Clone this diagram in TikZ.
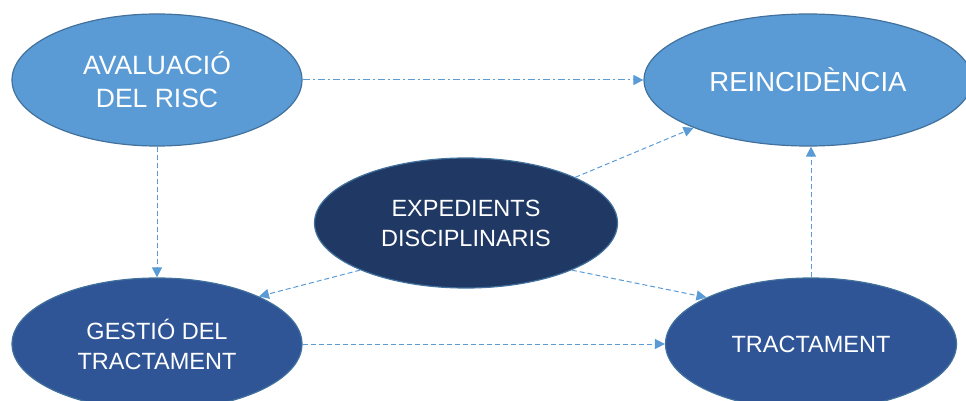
\documentclass[tikz,border=0pt]{standalone}
\usepackage{fontspec}
\setmainfont{Liberation Sans}
\usetikzlibrary{shapes.geometric, arrows.meta, positioning}
\definecolor{lightblue}{HTML}{5B9BD5}
\definecolor{midblue}{HTML}{2F5597}
\definecolor{navy}{HTML}{203864}
\definecolor{edgeblue}{HTML}{41719C}

\begin{document}
\begin{tikzpicture}[
  x=1pt, y=-1pt,
  stage/.style={ellipse, draw=edgeblue, line width=1.2pt, inner sep=0pt,
              text=white, align=center,
              minimum width=290pt, minimum height=132pt},
  light/.style={stage, fill=lightblue},
  dark/.style={stage, fill=midblue},
  core/.style={stage, fill=navy, minimum width=303pt, minimum height=130pt},
  big/.style={font=\fontsize{26.5}{33}\selectfont},
  small/.style={font=\fontsize{23.5}{30}\selectfont},
  link/.style={-{Triangle[length=10pt, width=10pt]}, draw=lightblue,
              line width=1pt, dash pattern=on 5pt off 3pt},
  linkdot/.style={link, dash pattern=on 7pt off 3pt on 2pt off 3pt},
]
  \useasboundingbox (0,0) rectangle (966,401);

  % Top row: risc / reincidencia
  \node[light, big] (risc) at (157,80) {AVALUACIÓ\\DEL RISC};
  \node[light, minimum width=328pt, font=\fontsize{27.5}{33}\selectfont]
    (reinc) at (808,80) {REINCIDÈNCIA};

  % Middle: expedients
  \node[core, small] (exped) at (466,223) {EXPEDIENTS\\DISCIPLINARIS};

  % Bottom row: gestio / tractament
  \node[dark, small] (gestio) at (157,344) {GESTIÓ DEL\\TRACTAMENT};
  \node[dark, small, minimum width=291pt] (tract) at (811,344) {TRACTAMENT};

  % Arrows
  \draw[linkdot] (risc) -- (reinc);
  \draw[link] (risc) -- (gestio);
  \draw[link] (exped) -- (reinc);
  \draw[link] (exped.204) -- (gestio.25);
  \draw[link] (exped.336) -- (tract.156);
  \draw[link] (gestio) -- (tract);
  \draw[link] (tract) -- (reinc.south -| tract);
\end{tikzpicture}
\end{document}
